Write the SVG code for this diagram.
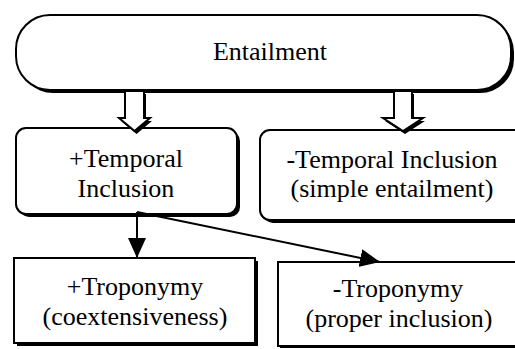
<svg xmlns="http://www.w3.org/2000/svg" width="515" height="349" viewBox="0 0 515 349">
<style>
.sh{fill:#000}
.bx{fill:#fff;stroke:#000;stroke-width:2}
.t{font-family:'Liberation Serif','DejaVu Serif',serif;font-size:26px;fill:#000;text-anchor:middle}
.ln{stroke:#000;stroke-width:2;fill:none}
</style>
<defs>
<marker id="ah" viewBox="0 0 20 18" refX="20" refY="9" markerWidth="20" markerHeight="18" markerUnits="userSpaceOnUse" orient="auto">
<path d="M0,0 L20,9 L0,18 z" fill="#000"/>
</marker>
</defs>
<rect width="515" height="349" fill="#fff"/>
<g id="entailment">
<rect class="sh" x="19" y="18" width="495" height="75" rx="34"/>
<rect class="bx" x="16" y="15" width="495" height="75" rx="34"/>
<text class="t" x="270" y="60" font-family="Liberation Serif, serif">Entailment</text>
</g>
<g id="plus-temporal">
<rect class="sh" x="19" y="131" width="221" height="86" rx="10"/>
<rect class="bx" x="16" y="128" width="221" height="86" rx="10"/>
<text class="t" x="126" y="167">+Temporal</text>
<text class="t" x="126" y="197">Inclusion</text>
</g>
<g id="minus-temporal">
<rect class="sh" x="263" y="133" width="270" height="90" rx="10"/>
<rect class="bx" x="260" y="130" width="270" height="90" rx="10"/>
<text class="t" x="392" y="168">-Temporal Inclusion</text>
<text class="t" x="392" y="197">(simple entailment)</text>
</g>
<g id="plus-troponymy">
<rect class="sh" x="17" y="261" width="241" height="85"/>
<rect class="bx" x="14" y="258" width="241" height="85"/>
<text class="t" x="135" y="295">+Troponymy</text>
<text class="t" x="135" y="325">(coextensiveness)</text>
</g>
<g id="minus-troponymy">
<rect class="sh" x="280" y="264" width="250" height="84"/>
<rect class="bx" x="278" y="262" width="250" height="84"/>
<text class="t" x="398" y="297">-Troponymy</text>
<text class="t" x="399" y="327">(proper inclusion)</text>
</g>
<g id="connectors">
<path class="sh" d="M127,94 L146,94 L146,121 L152,121 L136.5,134 L121,121 L127,121 Z"/>
<path class="bx" d="M125,91 L144,91 L144,118 L150,118 L134.5,131 L119,118 L125,118 Z"/>
<path class="sh" d="M396,94 L414,94 L414,121 L425,121 L405,134 L385,121 L396,121 Z"/>
<path class="bx" d="M394,91 L412,91 L412,118 L423,118 L403,131 L383,118 L394,118 Z"/>
<line class="ln" x1="137" y1="212" x2="137" y2="258" marker-end="url(#ah)"/>
<line class="ln" x1="137" y1="212" x2="380" y2="262" marker-end="url(#ah)"/>
</g>
</svg>
